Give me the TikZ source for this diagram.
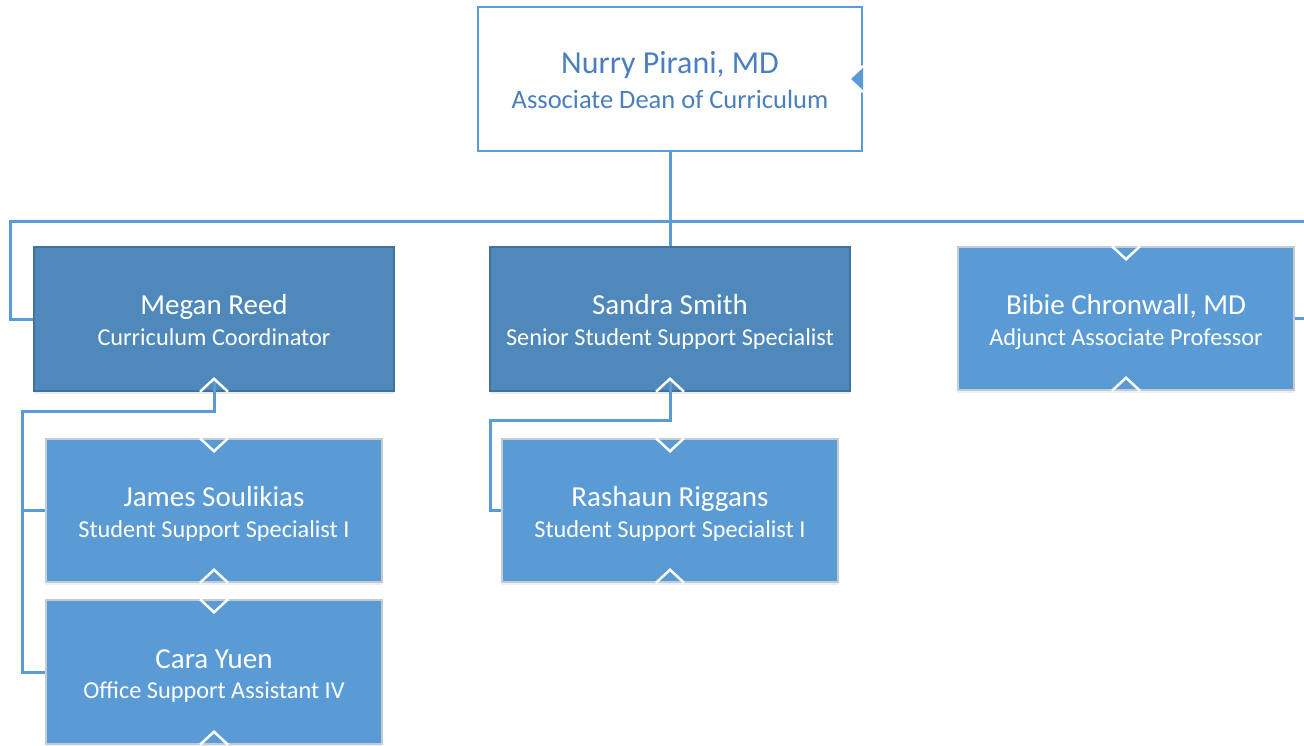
\documentclass[tikz,border=0pt]{standalone}
\usepackage{fontspec}
\setmainfont{Carlito}
\usetikzlibrary{shadows}
\definecolor{conn}{HTML}{5B9BD5}
\definecolor{darkfill}{HTML}{4F88BB}
\definecolor{darkedge}{HTML}{41719C}
\definecolor{lightfill}{HTML}{5B9BD5}
\definecolor{lightedge}{HTML}{C3CCD6}
\definecolor{toptext}{HTML}{4A7FBE}
\tikzset{
  conline/.style={draw=conn, line width=3pt},
  topbox/.style={draw=conn, line width=2pt, fill=white, minimum width=384pt, minimum height=144pt, align=center, text=toptext, inner sep=0pt, text height=58.6pt, text depth=0pt, font=\fontsize{26.5}{35}\selectfont},
  darkbox/.style={draw=darkedge, line width=1.5pt, fill=darkfill, minimum width=360pt, minimum height=144pt, align=center, text=white, inner sep=0pt, text height=53pt, text depth=0pt, font=\fontsize{24.3}{31}\selectfont, drop shadow={opacity=0.15, shadow xshift=0pt, shadow yshift=-3pt}},
  lightbox/.style={draw=lightedge, line width=1.5pt, fill=lightfill, minimum width=336pt, minimum height=143pt, align=center, text=white, inner sep=0pt, text height=53pt, text depth=0pt, font=\fontsize{24.3}{30.5}\selectfont, drop shadow={opacity=0.12, shadow xshift=0pt, shadow yshift=-3pt}},
  chev/.style={draw=white, line width=2.5pt, line join=miter},
}
\newcommand{\boxtext}[2]{{\fontsize{29}{30.5}\selectfont #1}\\{#2}}
\begin{document}
\begin{tikzpicture}[x=1pt,y=-1pt]
\useasboundingbox (0,0) rectangle (1304,745);
\fill[white] (0,0) rectangle (1304,745);
% nodes
\node[topbox] (top) at (670,79) {{\fontsize{32}{35}\selectfont Nurry Pirani, MD}\\Associate Dean of Curriculum};
\node[darkbox] (megan) at (214,319) {\boxtext{Megan Reed}{Curriculum Coordinator}};
\node[darkbox] (sandra) at (670,319) {\boxtext{Sandra Smith}{Senior Student Support Specialist}};
\node[lightbox] (bibie) at (1126,318.5) {\boxtext{Bibie Chronwall, MD}{Adjunct Associate Professor}};
\node[lightbox] (james) at (214,510.5) {\boxtext{James Soulikias}{Student Support Specialist I}};
\node[lightbox] (rashaun) at (670,510.5) {\boxtext{Rashaun Riggans}{Student Support Specialist I}};
\node[lightbox, minimum height=144pt] (cara) at (214,672) {\boxtext{Cara Yuen}{Office Support Assistant IV}};
% connectors
\coordinate (busL) at (10,221);
\coordinate (busR) at (1307,221);
\coordinate (mj) at (22,411);
\coordinate (sr) at (490,420);
\draw[conline] (top.south) |- (busL) |- (megan.west);
\draw[conline] (top.south) |- (busR) |- (bibie.east);
\draw[conline] (top.south) -- (sandra.north);
\draw[conline] ([yshift=12pt]megan.south) |- (mj) |- (james.west);
\draw[conline] (mj) |- (cara.west);
\draw[conline] ([yshift=12pt]sandra.south) |- (sr) |- (rashaun.west);
% notches
\fill[conn] ([yshift=-13pt]top.east) -- ([xshift=-14pt]top.east) -- ([yshift=13pt]top.east) -- cycle;
\draw[chev] ([yshift=-13pt]top.east) -- ([xshift=-14pt]top.east) -- ([yshift=13pt]top.east);
\foreach \n in {megan,sandra,bibie,james,rashaun,cara}{
  \draw[chev] ([xshift=-14pt]\n.south) -- ([yshift=13pt]\n.south) -- ([xshift=14pt]\n.south);
}
\foreach \n in {bibie,james,rashaun,cara}{
  \draw[chev] ([xshift=-14pt]\n.north) -- ([yshift=-13pt]\n.north) -- ([xshift=14pt]\n.north);
}
\end{tikzpicture}
\end{document}
